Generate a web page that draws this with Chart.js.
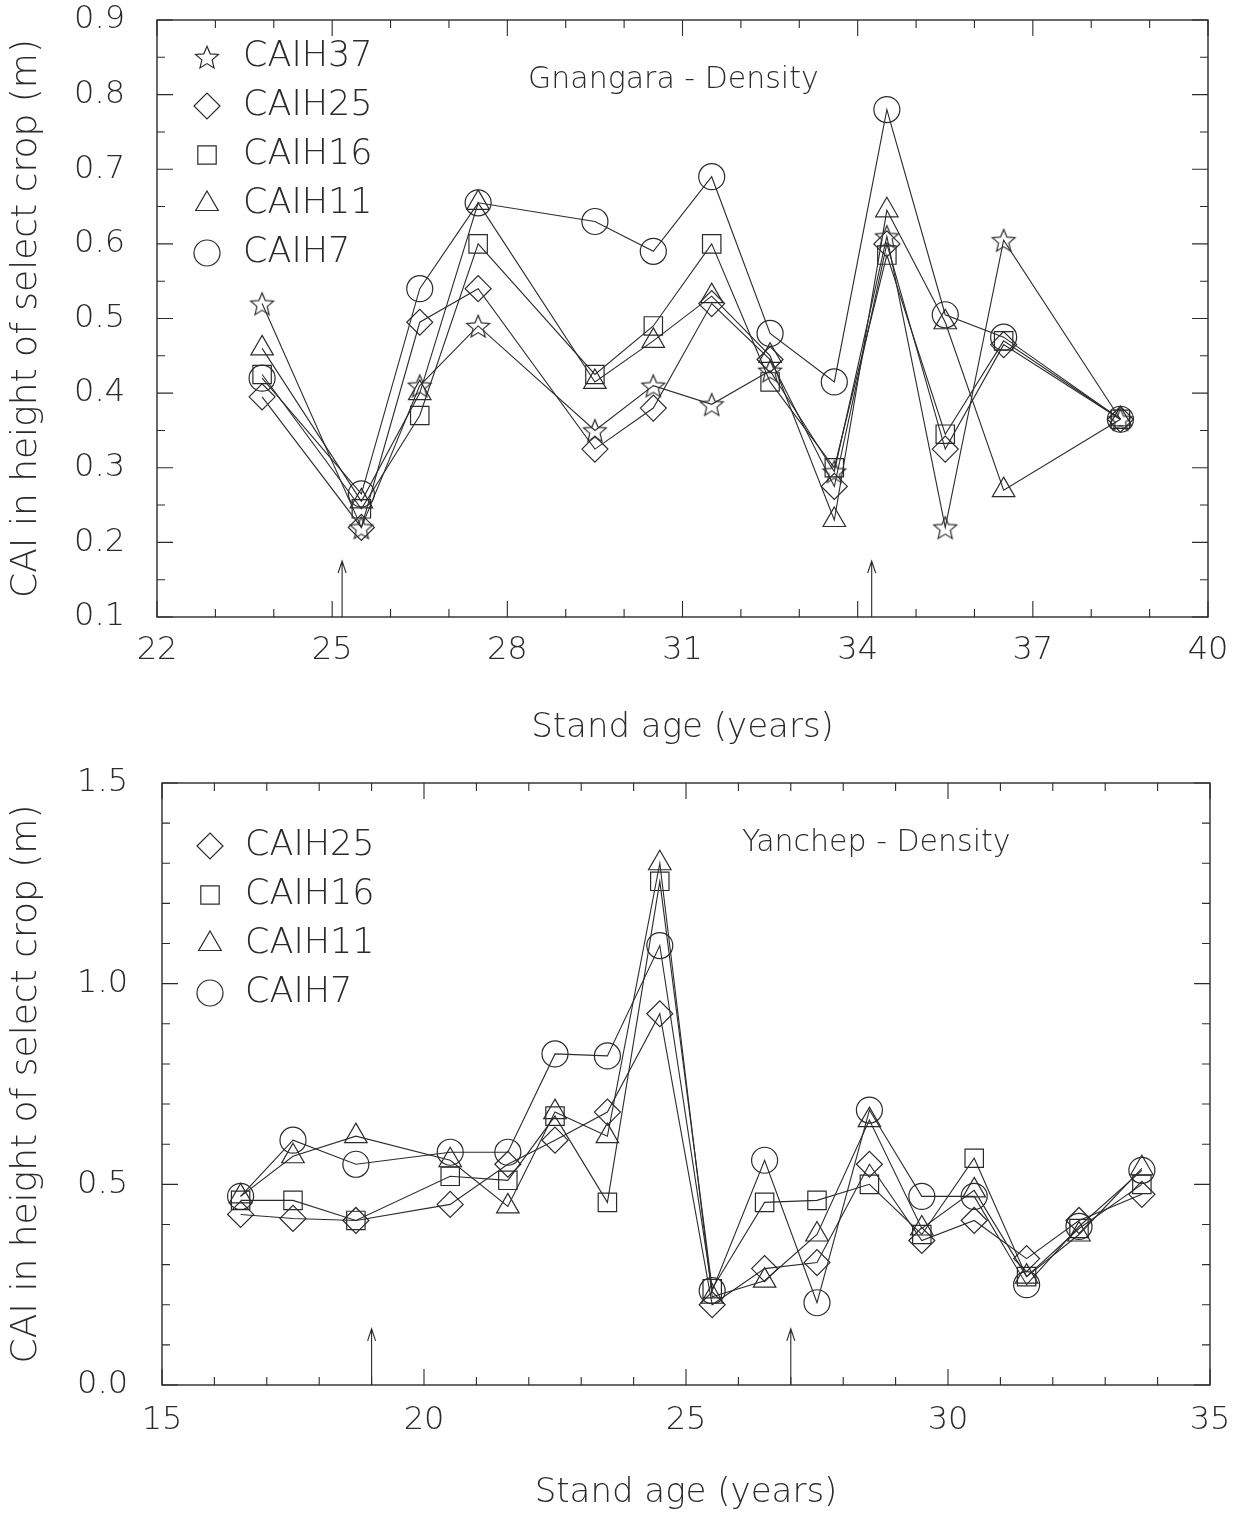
<!DOCTYPE html>
<html>
<head>
<meta charset="utf-8">
<script src="https://cdn.jsdelivr.net/npm/chart.js@4.4.1/dist/chart.umd.min.js"></script>
<style>
  html, body { margin: 0; padding: 0; background: #fff; }
  .box { position: absolute; left: 0; width: 1250px; height: 757px; }
  #topBox { top: 0; }
  #bottomBox { top: 757px; }
</style>
</head>
<body>
<div class="box" id="topBox"><canvas id="gnangara" width="1250" height="757"></canvas></div>
<div class="box" id="bottomBox"><canvas id="yanchep" width="1250" height="757"></canvas></div>
<script>
// Gnangara - Density (top panel)
const topAges   = [23.8, 25.5, 26.5, 27.5, 29.5, 30.5, 31.5, 32.5, 33.6, 34.5, 35.5, 36.5, 38.5];
const topCAIH37 = [0.52, 0.22, 0.41, 0.49, 0.35, 0.41, 0.385, 0.43, 0.295, 0.61, 0.22, 0.605, 0.365];
const topCAIH25 = [0.395, 0.22, 0.495, 0.54, 0.325, 0.38, 0.52, 0.445, 0.275, 0.60, 0.325, 0.465, 0.365];
const topCAIH16 = [0.425, 0.245, 0.37, 0.60, 0.425, 0.49, 0.60, 0.415, 0.30, 0.585, 0.345, 0.47, 0.365];
const topCAIH11 = [0.46, 0.255, 0.40, 0.655, 0.415, 0.47, 0.53, 0.45, 0.23, 0.645, 0.495, 0.27, 0.365];
const topCAIH7  = [0.42, 0.265, 0.54, 0.655, 0.63, 0.59, 0.69, 0.48, 0.415, 0.78, 0.505, 0.475, 0.365];
const topXTicks = [22, 25, 28, 31, 34, 37, 40];
const topYTicks = [0.1, 0.2, 0.3, 0.4, 0.5, 0.6, 0.7, 0.8, 0.9];
const topArrowAges = [25.17, 34.24];

// Yanchep - Density (bottom panel)
const botAges   = [16.5, 17.5, 18.7, 20.5, 21.6, 22.5, 23.5, 24.5, 25.5, 26.5, 27.5, 28.5, 29.5, 30.5, 31.5, 32.5, 33.7];
const botCAIH25 = [0.425, 0.415, 0.41, 0.45, 0.55, 0.61, 0.68, 0.925, 0.20, 0.29, 0.305, 0.55, 0.36, 0.41, 0.315, 0.41, 0.475];
const botCAIH16 = [0.46, 0.46, 0.41, 0.52, 0.51, 0.67, 0.455, 1.255, 0.24, 0.455, 0.46, 0.50, 0.375, 0.565, 0.27, 0.39, 0.50];
const botCAIH11 = [0.47, 0.57, 0.62, 0.56, 0.445, 0.68, 0.62, 1.30, 0.22, 0.26, 0.375, 0.66, 0.39, 0.485, 0.27, 0.375, 0.54];
const botCAIH7  = [0.47, 0.61, 0.55, 0.58, 0.58, 0.825, 0.82, 1.095, 0.235, 0.56, 0.205, 0.685, 0.47, 0.47, 0.25, 0.395, 0.535];
const botXTicks = [15, 20, 25, 30, 35];
const botYTicks = [0.0, 0.5, 1.0, 1.5];
const botArrowAges = [19.0, 27.0];

const ink = '#2b2b2b';
const fontFamily = '"DejaVu Sans", sans-serif';
Chart.defaults.font.family = fontFamily;
Chart.defaults.font.weight = '200';
Chart.defaults.color = ink;

// open five-point star, Chart.js 'star' is an asterisk
function starImage(r) {
  const c = document.createElement('canvas');
  const s = Math.ceil(r * 2 + 6);
  c.width = s; c.height = s;
  const g = c.getContext('2d');
  g.translate(s / 2, s / 2 + r * 0.1);
  g.beginPath();
  for (let i = 0; i < 10; i++) {
    const rr = i % 2 ? r * 0.45 : r;
    const ang = -Math.PI / 2 + i * Math.PI / 5;
    g.lineTo(rr * Math.cos(ang), rr * Math.sin(ang));
  }
  g.closePath();
  g.strokeStyle = ink; g.lineWidth = 1.2; g.stroke();
  return c;
}
const star = starImage(12);

function series(label, ages, values, style, radius) {
  return {
    label,
    data: ages.map((a, i) => ({ x: a, y: values[i] })),
    borderColor: ink, borderWidth: 1.1,
    backgroundColor: 'rgba(0,0,0,0)',
    pointStyle: style, pointRadius: radius, pointHoverRadius: radius,
    pointBorderColor: ink, pointBorderWidth: 1.2,
    pointBackgroundColor: 'rgba(0,0,0,0)',
    tension: 0, fill: false
  };
}

const framePlugin = {
  id: 'frame',
  afterDatasetsDraw(chart, args, o) {
    const { ctx, chartArea: a } = chart;
    const xs = chart.scales.x, ys = chart.scales.y;
    ctx.save();
    ctx.strokeStyle = ink;
    ctx.lineWidth = 1.4;
    ctx.strokeRect(a.left, a.top, a.right - a.left, a.bottom - a.top);

    // inward ticks on all four sides
    ctx.lineWidth = 1.1;
    ctx.beginPath();
    const nx = Math.round((xs.max - xs.min) / o.xMinor);
    for (let i = 0; i <= nx; i++) {
      const v = xs.min + i * o.xMinor;
      const px = xs.getPixelForValue(v);
      const q = (v - xs.min) / o.xMajor;
      const len = Math.abs(q - Math.round(q)) < 1e-6 ? 16 : 8;
      ctx.moveTo(px, a.bottom); ctx.lineTo(px, a.bottom - len);
      ctx.moveTo(px, a.top); ctx.lineTo(px, a.top + len);
    }
    const ny = Math.round((ys.max - ys.min) / o.yMinor);
    for (let i = 0; i <= ny; i++) {
      const v = ys.min + i * o.yMinor;
      const py = ys.getPixelForValue(v);
      const q = (v - ys.min) / o.yMajor;
      const len = Math.abs(q - Math.round(q)) < 1e-6 ? 16 : 8;
      ctx.moveTo(a.left, py); ctx.lineTo(a.left + len, py);
      ctx.moveTo(a.right, py); ctx.lineTo(a.right - len, py);
    }
    ctx.stroke();

    // thinning arrows
    o.arrows.forEach(age => {
      const px = xs.getPixelForValue(age);
      const tip = ys.getPixelForValue(o.arrowTip);
      ctx.beginPath();
      ctx.moveTo(px, a.bottom); ctx.lineTo(px, tip);
      ctx.moveTo(px - 4, tip + 12); ctx.lineTo(px, tip); ctx.lineTo(px + 4, tip + 12);
      ctx.stroke();
    });

    // panel title
    ctx.fillStyle = ink;
    ctx.textAlign = 'left';
    ctx.textBaseline = 'middle';
    ctx.font = '200 30px ' + fontFamily;
    ctx.fillText(o.title, a.left + o.titleX, a.top + o.titleY);

    // legend
    chart.data.datasets.forEach((ds, i) => {
      const y = a.top + o.legendTop + i * o.legendGap;
      ctx.strokeStyle = ink;
      ctx.fillStyle = 'rgba(0,0,0,0)';
      ctx.lineWidth = 1.2;
      Chart.helpers.drawPoint(ctx, { pointStyle: ds.pointStyle, radius: ds.pointRadius, rotation: 0, borderWidth: 1.2 }, a.left + o.legendMarkX, y);
      ctx.fillStyle = ink;
      ctx.font = '200 35px ' + fontFamily;
      ctx.fillText(ds.label, a.left + o.legendTextX, y);
    });
    ctx.restore();
  }
};

function buildChart(id, o) {
  return new Chart(document.getElementById(id), {
    type: 'line',
    data: { datasets: o.datasets },
    options: {
      responsive: false,
      animation: false,
      events: [],
      layout: { padding: o.padding },
      plugins: { legend: { display: false }, tooltip: { enabled: false }, frame: o.frame },
      scales: {
        x: {
          type: 'linear', min: o.xMin, max: o.xMax,
          grid: { display: false, drawTicks: false },
          border: { display: false },
          afterBuildTicks: s => { s.ticks = o.xTicks.map(v => ({ value: v })); },
          afterFit: s => { s.height = o.xHeight; s.paddingLeft = 0; s.paddingRight = 0; },
          ticks: { padding: o.xPad, font: { size: 32 }, color: ink, callback: v => String(v) },
          title: { display: true, text: 'Stand age (years)', font: { size: 34 }, color: ink, padding: { top: 0, bottom: o.xTitlePad } }
        },
        y: {
          min: o.yMin, max: o.yMax,
          grid: { display: false, drawTicks: false },
          border: { display: false },
          afterBuildTicks: s => { s.ticks = o.yTicks.map(v => ({ value: v })); },
          afterFit: s => { s.width = o.yWidth; s.paddingTop = 0; s.paddingBottom = 0; },
          ticks: { padding: o.yPad, font: { size: 32 }, color: ink, callback: v => Number(v).toFixed(1) },
          title: { display: true, text: 'CAI in height of select crop (m)', font: { size: 36 }, color: ink, padding: { top: 5, bottom: 0 } }
        }
      }
    },
    plugins: [framePlugin]
  });
}

buildChart('gnangara', {
  datasets: [
    series('CAIH37', topAges, topCAIH37, star, 12),
    series('CAIH25', topAges, topCAIH25, 'rectRot', 13),
    series('CAIH16', topAges, topCAIH16, 'rect', 13),
    series('CAIH11', topAges, topCAIH11, 'triangle', 13),
    series('CAIH7', topAges, topCAIH7, 'circle', 13)
  ],
  xMin: 22, xMax: 40, yMin: 0.1, yMax: 0.9,
  xTicks: topXTicks, yTicks: topYTicks,
  padding: { left: 0, top: 20, right: 42, bottom: 0 },
  xHeight: 140, yWidth: 157, xPad: 14, yPad: 32, xTitlePad: 8,
  frame: {
    xMinor: 1, xMajor: 3, yMinor: 0.05, yMajor: 0.1,
    arrows: topArrowAges, arrowTip: 0.175,
    title: 'Gnangara - Density', titleX: 371, titleY: 60,
    legendTop: 37, legendGap: 49, legendMarkX: 50, legendTextX: 86
  }
});

buildChart('yanchep', {
  datasets: [
    series('CAIH25', botAges, botCAIH25, 'rectRot', 13),
    series('CAIH16', botAges, botCAIH16, 'rect', 13),
    series('CAIH11', botAges, botCAIH11, 'triangle', 13),
    series('CAIH7', botAges, botCAIH7, 'circle', 13)
  ],
  xMin: 15, xMax: 35, yMin: 0, yMax: 1.5,
  xTicks: botXTicks, yTicks: botYTicks,
  padding: { left: 0, top: 26, right: 40, bottom: 0 },
  xHeight: 129, yWidth: 162, xPad: 16, yPad: 34, xTitlePad: 0,
  frame: {
    xMinor: 1, xMajor: 5, yMinor: 0.1, yMajor: 0.5,
    arrows: botArrowAges, arrowTip: 0.14,
    title: 'Yanchep - Density', titleX: 580, titleY: 60,
    legendTop: 63, legendGap: 49, legendMarkX: 48, legendTextX: 83
  }
});
</script>
</body>
</html>
